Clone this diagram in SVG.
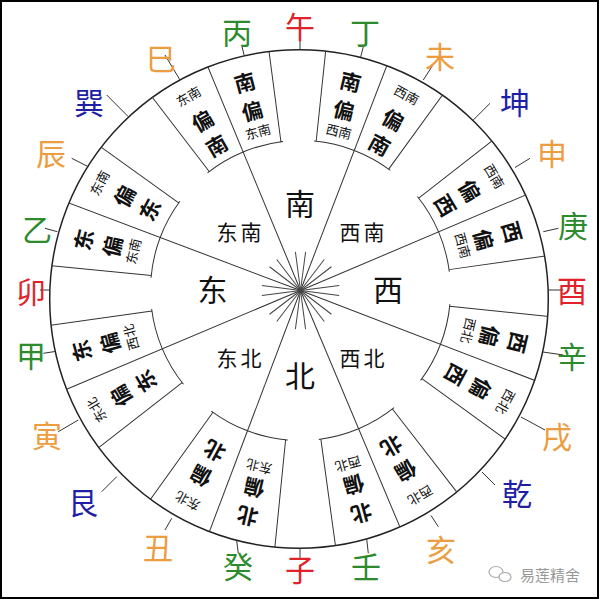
<svg xmlns="http://www.w3.org/2000/svg" width="600" height="600" viewBox="0 0 600 600">
<defs>
<clipPath id="disc"><circle cx="299" cy="299" r="249.3"/></clipPath>
<style>
text { font-family: "Noto Sans CJK SC", "Noto Sans", sans-serif; text-anchor: middle; dominant-baseline: central; }
.ln { stroke:#333; stroke-width:1; fill:none; }
.sp { stroke:#444; stroke-width:1; }
.bx { stroke:#333; stroke-width:1; fill:none; }
.b { font-size:21px; font-weight:700; fill:#111; }
.s { font-size:13px; fill:#111; }
.dir { font-size:30px; fill:#111; }
.dir2 { font-size:21px; fill:#111; letter-spacing:3px; }
.m { font-size:30px; }
.red { fill:#e0222a; } .grn { fill:#2d8a2d; } .org { fill:#eb9d3f; } .blu { fill:#1f1fa6; }
.tk { stroke:#333; stroke-width:1; }
</style>
</defs>
<rect x="0" y="0" width="600" height="600" fill="#fff"/>
<rect x="1" y="1" width="597" height="597" fill="none" stroke="#000" stroke-width="2"/>

<circle id="outer-ring" cx="299" cy="299" r="249.3" fill="none" stroke="#222" stroke-width="1.5"/>

<g clip-path="url(#disc)">
<g id="connectors" transform="translate(300.5 290.5)">
<line class="ln" x1="0" y1="0" x2="0" y2="-270" transform="rotate(337.5)"/>
<line class="ln" x1="0" y1="0" x2="0" y2="-270" transform="rotate(21)"/>
<line class="ln" x1="0" y1="0" x2="0" y2="-270" transform="rotate(67)"/>
<line class="ln" x1="0" y1="0" x2="0" y2="-270" transform="rotate(111)"/>
<line class="ln" x1="0" y1="0" x2="0" y2="-270" transform="rotate(157.2)"/>
<line class="ln" x1="0" y1="0" x2="0" y2="-270" transform="rotate(200.7)"/>
<line class="ln" x1="0" y1="0" x2="0" y2="-270" transform="rotate(247.1)"/>
<line class="ln" x1="0" y1="0" x2="0" y2="-270" transform="rotate(290.7)"/>
<g id="sunburst">
<line class="sp" x1="0" y1="0" x2="0" y2="-39" transform="rotate(7.5)"/>
<line class="sp" x1="0" y1="0" x2="0" y2="-39" transform="rotate(37.5)"/>
<line class="sp" x1="0" y1="0" x2="0" y2="-39" transform="rotate(52.5)"/>
<line class="sp" x1="0" y1="0" x2="0" y2="-39" transform="rotate(82.5)"/>
<line class="sp" x1="0" y1="0" x2="0" y2="-39" transform="rotate(97.5)"/>
<line class="sp" x1="0" y1="0" x2="0" y2="-39" transform="rotate(127.5)"/>
<line class="sp" x1="0" y1="0" x2="0" y2="-39" transform="rotate(142.5)"/>
<line class="sp" x1="0" y1="0" x2="0" y2="-39" transform="rotate(172.5)"/>
<line class="sp" x1="0" y1="0" x2="0" y2="-39" transform="rotate(187.5)"/>
<line class="sp" x1="0" y1="0" x2="0" y2="-39" transform="rotate(217.5)"/>
<line class="sp" x1="0" y1="0" x2="0" y2="-39" transform="rotate(232.5)"/>
<line class="sp" x1="0" y1="0" x2="0" y2="-39" transform="rotate(262.5)"/>
<line class="sp" x1="0" y1="0" x2="0" y2="-39" transform="rotate(277.5)"/>
<line class="sp" x1="0" y1="0" x2="0" y2="-39" transform="rotate(307.5)"/>
<line class="sp" x1="0" y1="0" x2="0" y2="-39" transform="rotate(322.5)"/>
<line class="sp" x1="0" y1="0" x2="0" y2="-39" transform="rotate(352.5)"/>
</g>
</g>

<g id="box-dongnan-pian-nan" transform="translate(300.5 290.5) rotate(330)">
<path class="bx" d="M -35.24 -267.69 L -19.58 -148.72 M -21.66 -148.43 A 150 150 0 0 1 19.58 -148.72"/>
<text class="s" x="0" y="-224.6">东南</text><text class="b" x="0" y="-196.6">偏</text><text class="b" x="0" y="-168.1">南</text>
</g>
<g id="box-nan-pian-dongnan" transform="translate(300.5 290.5) rotate(345)">
<path class="bx" d="M 35.24 -267.69 L 19.58 -148.72 M -19.58 -148.72 A 150 150 0 0 1 21.66 -148.43"/>
<text class="b" x="0" y="-216.4">南</text><text class="b" x="0" y="-186.9">偏</text><text class="s" x="0" y="-164.9">东南</text>
</g>
<g id="box-nan-pian-xinan" transform="translate(300.5 290.5) rotate(13.5)">
<path class="bx" d="M -35.24 -267.69 L -19.58 -148.72 M -21.66 -148.43 A 150 150 0 0 1 19.58 -148.72"/>
<text class="b" x="0" y="-215.6">南</text><text class="b" x="0" y="-186.1">偏</text><text class="s" x="0" y="-164.1">西南</text>
</g>
<g id="box-xinan-pian-nan" transform="translate(300.5 290.5) rotate(28.5)">
<path class="bx" d="M 35.24 -267.69 L 19.58 -148.72 M -19.58 -148.72 A 150 150 0 0 1 21.66 -148.43"/>
<text class="s" x="0" y="-223">西南</text><text class="b" x="0" y="-195">偏</text><text class="b" x="0" y="-166.5">南</text>
</g>
<g id="box-xinan-pian-xi" transform="translate(300.5 290.5) rotate(59.5)">
<path class="bx" d="M -35.24 -267.69 L -19.58 -148.72 M -21.66 -148.43 A 150 150 0 0 1 19.58 -148.72"/>
<text class="s" x="0" y="-225.5">西南</text><text class="b" x="0" y="-197.5">偏</text><text class="b" x="0" y="-169">西</text>
</g>
<g id="box-xi-pian-xinan" transform="translate(300.5 290.5) rotate(74.5)">
<path class="bx" d="M 35.24 -267.69 L 19.58 -148.72 M -19.58 -148.72 A 150 150 0 0 1 21.66 -148.43"/>
<text class="b" x="0" y="-220.4">西</text><text class="b" x="0" y="-190.9">偏</text><text class="s" x="0" y="-168.9">西南</text>
</g>
<g id="box-xi-pian-xibei" transform="translate(300.5 290.5) rotate(103.5)">
<path class="bx" d="M -35.24 -267.69 L -19.58 -148.72 M -21.66 -148.43 A 150 150 0 0 1 19.58 -148.72"/>
<text class="b" x="0" y="-224.6">西</text><text class="b" x="0" y="-195.1">偏</text><text class="s" x="0" y="-173.1">西北</text>
</g>
<g id="box-xibei-pian-xi" transform="translate(300.5 290.5) rotate(118.5)">
<path class="bx" d="M 35.24 -267.69 L 19.58 -148.72 M -19.58 -148.72 A 150 150 0 0 1 21.66 -148.43"/>
<text class="s" x="0" y="-233.8">西北</text><text class="b" x="0" y="-205.8">偏</text><text class="b" x="0" y="-177.3">西</text>
</g>
<g id="box-xibei-pian-bei" transform="translate(300.5 290.5) rotate(149.7)">
<path class="bx" d="M -35.24 -267.69 L -19.58 -148.72 M -21.66 -148.43 A 150 150 0 0 1 19.58 -148.72"/>
<text class="s" x="0" y="-237.8">西北</text><text class="b" x="0" y="-209.8">偏</text><text class="b" x="0" y="-181.3">北</text>
</g>
<g id="box-bei-pian-xibei" transform="translate(300.5 290.5) rotate(164.7)">
<path class="bx" d="M 35.24 -267.69 L 19.58 -148.72 M -19.58 -148.72 A 150 150 0 0 1 21.66 -148.43"/>
<text class="b" x="0" y="-232">北</text><text class="b" x="0" y="-202.5">偏</text><text class="s" x="0" y="-180.5">西北</text>
</g>
<g id="box-bei-pian-dongbei" transform="translate(300.5 290.5) rotate(193.2)">
<path class="bx" d="M -35.24 -267.69 L -19.58 -148.72 M -21.66 -148.43 A 150 150 0 0 1 19.58 -148.72"/>
<text class="b" x="0" y="-232.9">北</text><text class="b" x="0" y="-203.4">偏</text><text class="s" x="0" y="-181.4">东北</text>
</g>
<g id="box-dongbei-pian-bei" transform="translate(300.5 290.5) rotate(208.2)">
<path class="bx" d="M 35.24 -267.69 L 19.58 -148.72 M -19.58 -148.72 A 150 150 0 0 1 21.66 -148.43"/>
<text class="s" x="0" y="-239.4">东北</text><text class="b" x="0" y="-211.4">偏</text><text class="b" x="0" y="-182.9">北</text>
</g>
<g id="box-dongbei-pian-dong" transform="translate(300.5 290.5) rotate(239.6)">
<path class="bx" d="M -35.24 -267.69 L -19.58 -148.72 M -21.66 -148.43 A 150 150 0 0 1 19.58 -148.72"/>
<text class="s" x="0" y="-236.8">东北</text><text class="b" x="0" y="-208.8">偏</text><text class="b" x="0" y="-180.3">东</text>
</g>
<g id="box-dong-pian-xibei" transform="translate(300.5 290.5) rotate(254.6)">
<path class="bx" d="M 35.24 -267.69 L 19.58 -148.72 M -19.58 -148.72 A 150 150 0 0 1 21.66 -148.43"/>
<text class="b" x="0" y="-227.8">东</text><text class="b" x="0" y="-198.3">偏</text><text class="s" x="0" y="-176.3">西北</text>
</g>
<g id="box-dong-pian-dongnan" transform="translate(300.5 290.5) rotate(283.2)">
<path class="bx" d="M -35.24 -267.69 L -19.58 -148.72 M -21.66 -148.43 A 150 150 0 0 1 19.58 -148.72"/>
<text class="b" x="0" y="-223.6">东</text><text class="b" x="0" y="-194.1">偏</text><text class="s" x="0" y="-172.1">东南</text>
</g>
<g id="box-dongnan-pian-dong" transform="translate(300.5 290.5) rotate(298.2)">
<path class="bx" d="M 35.24 -267.69 L 19.58 -148.72 M -19.58 -148.72 A 150 150 0 0 1 21.66 -148.43"/>
<text class="s" x="0" y="-228.4">东南</text><text class="b" x="0" y="-200.4">偏</text><text class="b" x="0" y="-171.9">东</text>
</g>
</g>

<g id="directions">
<text class="dir" x="300" y="202">南</text>
<text class="dir" x="388" y="288">西</text>
<text class="dir" x="300" y="374">北</text>
<text class="dir" x="212.5" y="288">东</text>
<text class="dir2" x="240.5" y="231">东南</text>
<text class="dir2" x="363.5" y="231">西南</text>
<text class="dir2" x="240.5" y="357">东北</text>
<text class="dir2" x="363.5" y="357">西北</text>
</g>

<g id="ticks">
<line class="tk" x1="300" y1="40" x2="300" y2="50"/>
<line class="tk" x1="363.3" y1="46.7" x2="360.7" y2="57"/>
<line class="tk" x1="435" y1="61.7" x2="423.3" y2="80"/>
<line class="tk" x1="490" y1="103.3" x2="473.1" y2="120.2"/>
<line class="tk" x1="530" y1="158.3" x2="515" y2="167.5"/>
<line class="tk" x1="558.3" y1="228.3" x2="543.3" y2="231.7"/>
<line class="tk" x1="563.3" y1="290" x2="548.3" y2="290"/>
<line class="tk" x1="563.3" y1="355" x2="543" y2="352"/>
<line class="tk" x1="545" y1="430" x2="521" y2="417"/>
<line class="tk" x1="495" y1="485" x2="482" y2="472"/>
<line class="tk" x1="438.3" y1="526.7" x2="431" y2="515.5"/>
<line class="tk" x1="368.3" y1="553.3" x2="366.7" y2="539"/>
<line class="tk" x1="300" y1="558" x2="300" y2="548.3"/>
<line class="tk" x1="238.3" y1="553.3" x2="236.7" y2="541"/>
<line class="tk" x1="165" y1="530" x2="171.7" y2="518.3"/>
<line class="tk" x1="101.7" y1="491.7" x2="116.7" y2="476.7"/>
<line class="tk" x1="58.3" y1="431.7" x2="78.3" y2="420"/>
<line class="tk" x1="43.3" y1="353.3" x2="55" y2="351.5"/>
<line class="tk" x1="40" y1="290" x2="49.7" y2="290"/>
<line class="tk" x1="45" y1="228.3" x2="57.3" y2="231.7"/>
<line class="tk" x1="71.7" y1="158.3" x2="88.3" y2="166.7"/>
<line class="tk" x1="106.7" y1="95" x2="128.3" y2="116.7"/>
<line class="tk" x1="165" y1="55" x2="180" y2="80"/>
<line class="tk" x1="241.7" y1="45" x2="244" y2="55"/>
</g>

<g id="mountains">
<text class="m red" x="300" y="25">午</text>
<text class="m grn" x="365" y="31">丁</text>
<text class="m org" x="440" y="55">未</text>
<text class="m blu" x="515" y="101">坤</text>
<text class="m org" x="552" y="152">申</text>
<text class="m grn" x="573" y="224">庚</text>
<text class="m red" x="572" y="289">酉</text>
<text class="m grn" x="572" y="355">辛</text>
<text class="m org" x="557" y="435">戌</text>
<text class="m blu" x="517" y="492">乾</text>
<text class="m org" x="441" y="548">亥</text>
<text class="m grn" x="366" y="565">壬</text>
<text class="m red" x="300" y="568">子</text>
<text class="m grn" x="238" y="565">癸</text>
<text class="m org" x="158" y="546">丑</text>
<text class="m blu" x="83" y="501">艮</text>
<text class="m org" x="47" y="434">寅</text>
<text class="m grn" x="31" y="354">甲</text>
<text class="m red" x="31" y="290">卯</text>
<text class="m grn" x="37" y="228">乙</text>
<text class="m org" x="51" y="152">辰</text>
<text class="m blu" x="89" y="101">巽</text>
<text class="m org" x="161" y="57">巳</text>
<text class="m grn" x="237" y="31">丙</text>
</g>

<g id="watermark">
<ellipse cx="496" cy="572" rx="7" ry="5.5" fill="none" stroke="#aaa" stroke-width="1.2"/>
<ellipse cx="505" cy="577" rx="6" ry="4.5" fill="#fff" stroke="#aaa" stroke-width="1.2"/>
<text x="550" y="574" style="font-size:15px; fill:#999;">易莲精舍</text>
</g>
</svg>
